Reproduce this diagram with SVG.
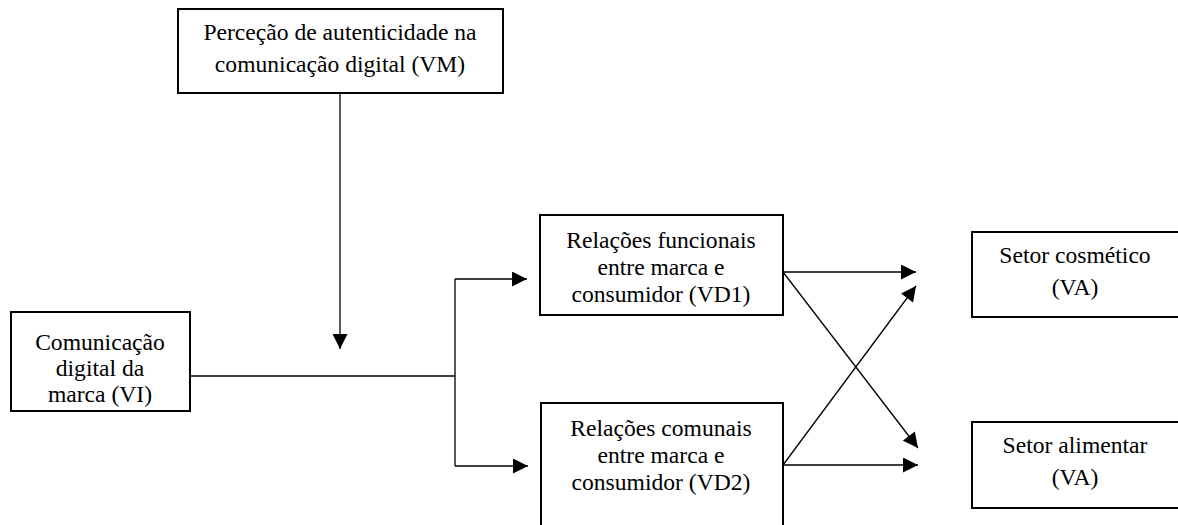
<svg xmlns="http://www.w3.org/2000/svg" width="1178" height="525" viewBox="0 0 1178 525">
<style>
.box{fill:#fff;stroke:#000;stroke-width:2}
text{font-family:'Liberation Serif','Times New Roman','DejaVu Serif',serif;font-size:23.6px;fill:#000;text-anchor:middle}
.ln{fill:none;stroke:#000;stroke-width:1.3}
</style>
<defs>
<marker id="ah" viewBox="0 0 10 10" refX="10" refY="5" markerWidth="16" markerHeight="15" markerUnits="userSpaceOnUse" orient="auto">
<path d="M0,0 L10,5 L0,10 Z" fill="#000"/>
</marker>
</defs>
<rect width="1178" height="525" fill="#fff"/>
<g id="connectors">
<line class="ln" x1="340" y1="94" x2="340" y2="349" marker-end="url(#ah)"/>
<polyline class="ln" points="190,376 455,376"/>
<polyline class="ln" points="455,279 455,466"/>
<line class="ln" x1="455" y1="279" x2="527" y2="279" marker-end="url(#ah)"/>
<line class="ln" x1="455" y1="466" x2="528" y2="466" marker-end="url(#ah)"/>
<line class="ln" x1="783" y1="272" x2="916" y2="272" marker-end="url(#ah)"/>
<line class="ln" x1="783" y1="272" x2="918" y2="448" marker-end="url(#ah)"/>
<line class="ln" x1="783" y1="465" x2="918" y2="465" marker-end="url(#ah)"/>
<line class="ln" x1="783" y1="465" x2="916" y2="286" marker-end="url(#ah)"/>
</g>
<g id="vm">
<rect class="box" x="178" y="9" width="325" height="84"/>
<text x="340" y="40">Perceção de autenticidade na</text>
<text x="340" y="72">comunicação digital (VM)</text>
</g>
<g id="vi">
<rect class="box" x="11" y="312" width="179" height="99"/>
<text x="100" y="350">Comunicação</text>
<text x="100" y="376">digital da</text>
<text x="100" y="402">marca (VI)</text>
</g>
<g id="vd1">
<rect class="box" x="540" y="215" width="243" height="100"/>
<text x="661" y="248">Relações funcionais</text>
<text x="661" y="275">entre marca e</text>
<text x="661" y="302">consumidor (VD1)</text>
</g>
<g id="vd2">
<rect class="box" x="541" y="403" width="242" height="130"/>
<text x="661" y="436">Relações comunais</text>
<text x="661" y="463">entre marca e</text>
<text x="661" y="490">consumidor (VD2)</text>
</g>
<g id="cosm">
<rect class="box" x="972" y="232" width="210" height="85"/>
<text x="1075" y="263">Setor cosmético</text>
<text x="1075" y="295">(VA)</text>
</g>
<g id="alim">
<rect class="box" x="972" y="422" width="210" height="86"/>
<text x="1075" y="453">Setor alimentar</text>
<text x="1075" y="485">(VA)</text>
</g>
</svg>
